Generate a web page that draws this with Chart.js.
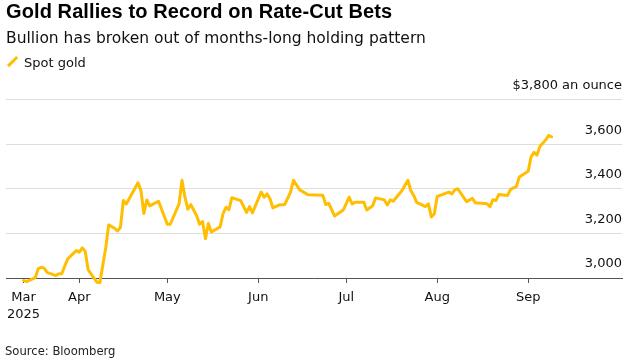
<!DOCTYPE html>
<html><head><meta charset="utf-8">
<script src="https://cdn.jsdelivr.net/npm/chart.js@4.4.1/dist/chart.umd.min.js"></script>
<style>
html,body{margin:0;padding:0;background:#fff;}
#wrap{position:relative;width:633px;height:361px;overflow:hidden;}
#c{position:absolute;left:0;top:0;}
.t{position:absolute;white-space:nowrap;color:#000;}
#title{left:6px;top:1.4px;font:bold 20px/20px "Liberation Sans",Arial,sans-serif;letter-spacing:0.1px;}
#sub{left:6px;top:29px;font:15.5px/18px "DejaVu Sans",sans-serif;color:#111;}
#leg{left:24px;top:54.7px;font:13px/15px "DejaVu Sans",sans-serif;color:#111;}
#sw{position:absolute;left:10.5px;top:55.4px;width:3px;height:13.3px;background:#ffbe00;transform:rotate(45deg);}
#src{left:5px;top:345.3px;font:11.6px/13.5px "DejaVu Sans",sans-serif;color:#222;}
</style></head>
<body><div id="wrap">
<canvas id="c" width="633" height="361"></canvas>
<div class="t" id="title">Gold Rallies to Record on Rate-Cut Bets</div>
<div class="t" id="sub">Bullion has broken out of months-long holding pattern</div>
<div id="sw"></div>
<div class="t" id="leg">Spot gold</div>
<div class="t" id="src">Source: Bloomberg</div>
</div>
<script>
const dates = [
'2025-03-13','2025-03-14','2025-03-17','2025-03-18','2025-03-19','2025-03-20','2025-03-21','2025-03-24','2025-03-25','2025-03-26',
'2025-03-28','2025-03-30','2025-03-31','2025-04-01','2025-04-02','2025-04-03','2025-04-04','2025-04-06','2025-04-07','2025-04-08',
'2025-04-10','2025-04-11','2025-04-13','2025-04-14','2025-04-15','2025-04-16','2025-04-17','2025-04-21','2025-04-22','2025-04-23',
'2025-04-24','2025-04-25','2025-04-28','2025-04-29','2025-05-01','2025-05-02','2025-05-05','2025-05-06','2025-05-07','2025-05-08',
'2025-05-09','2025-05-11','2025-05-12','2025-05-13','2025-05-14','2025-05-15','2025-05-16','2025-05-19','2025-05-20','2025-05-21',
'2025-05-22','2025-05-23','2025-05-26','2025-05-28','2025-05-29','2025-05-30','2025-06-02','2025-06-03','2025-06-04','2025-06-05',
'2025-06-06','2025-06-08','2025-06-10','2025-06-12','2025-06-13','2025-06-15','2025-06-16','2025-06-18','2025-06-23','2025-06-24',
'2025-06-25','2025-06-27','2025-06-30','2025-07-02','2025-07-03','2025-07-04','2025-07-07','2025-07-08','2025-07-10','2025-07-11',
'2025-07-14','2025-07-15','2025-07-16','2025-07-17','2025-07-20','2025-07-22','2025-07-23','2025-07-24','2025-07-25','2025-07-28',
'2025-07-29','2025-07-30','2025-07-31','2025-08-01','2025-08-04','2025-08-05','2025-08-06','2025-08-07','2025-08-08','2025-08-11',
'2025-08-13','2025-08-14','2025-08-18','2025-08-19','2025-08-20','2025-08-21','2025-08-22','2025-08-25','2025-08-26','2025-08-28',
'2025-08-29','2025-09-01','2025-09-02','2025-09-03','2025-09-04','2025-09-05','2025-09-07','2025-09-08','2025-09-09'
];
const spotGold = [
2989,2984,3002,3042,3048,3044,3025,3011,3019,3019,
3085,3110,3123,3116,3135,3120,3037,2999,2981,2980,
3135,3238,3223,3211,3226,3347,3332,3427,3392,3289,
3350,3323,3344,3309,3241,3241,3332,3438,3362,3309,
3329,3279,3241,3253,3176,3244,3206,3229,3289,3317,
3306,3360,3347,3294,3320,3292,3385,3362,3377,3355,
3314,3327,3329,3385,3438,3397,3388,3373,3371,3329,
3335,3278,3305,3362,3332,3339,3339,3305,3324,3359,
3350,3327,3350,3344,3392,3438,3392,3370,3339,3320,
3332,3274,3287,3366,3380,3385,3377,3395,3400,3342,
3357,3337,3333,3320,3351,3347,3374,3370,3397,3410,
3453,3478,3543,3563,3551,3589,3619,3639,3633
];
const xTickDates = ['2025-03-13','2025-04-01','2025-05-01','2025-06-01','2025-07-01','2025-08-01','2025-09-01'];
const xTickLabels = [['Mar','2025'],'Apr','May','Jun','Jul','Aug','Sep'];
const xRange = ['2025-03-07','2025-10-03'];
const yTickValues = [3000,3200,3400,3600,3800];
const yTickLabels = ['3,000','3,200','3,400','3,600','$3,800 an ounce'];
const yRange = [3000,3800];

const DAY = 86400000;
const dayNum = s => Date.UTC(+s.slice(0,4), +s.slice(5,7)-1, +s.slice(8,10)) / DAY;
const GOLD = '#ffbe00';
const FONT = 'DejaVu Sans';

new Chart(document.getElementById('c'), {
  type: 'line',
  data: {
    datasets: [{
      label: 'Spot gold',
      data: dates.map((d,i) => ({x: dayNum(d), y: spotGold[i]})),
      borderColor: GOLD,
      borderWidth: 3,
      pointRadius: 0,
      tension: 0,
      borderJoinStyle: 'round',
      borderCapStyle: 'round',
      clip: false
    }]
  },
  options: {
    responsive: false,
    animation: false,
    devicePixelRatio: 1,
    layout: {padding: {left: 6, right: 11, top: 99.5, bottom: 32.2}},
    plugins: {legend: {display: false}, title: {display: false}, tooltip: {enabled: false}},
    scales: {
      x: {
        type: 'linear',
        min: dayNum(xRange[0]), max: dayNum(xRange[1]),
        afterBuildTicks: s => { s.ticks = xTickDates.map(d => ({value: dayNum(d)})); },
        ticks: {
          autoSkip: false, maxRotation: 0, minRotation: 0, padding: 6, color: '#111',
          font: {family: FONT, size: 13, lineHeight: 1.3},
          callback: v => { const i = xTickDates.findIndex(d => dayNum(d) === v); return i >= 0 ? xTickLabels[i] : ''; }
        },
        grid: {display: true, drawOnChartArea: false, drawTicks: true, tickLength: 5, color: '#555', lineWidth: 1},
        border: {display: true, color: '#555', width: 1}
      },
      y: {
        type: 'linear', position: 'right',
        min: yRange[0], max: yRange[1],
        afterBuildTicks: s => { s.ticks = yTickValues.map(v => ({value: v})); },
        ticks: {
          mirror: true, padding: 0, labelOffset: -14, color: '#111',
          font: {family: FONT, size: 13},
          callback: v => yTickLabels[yTickValues.indexOf(v)]
        },
        grid: {color: '#dedede', lineWidth: 1, drawTicks: false},
        border: {display: false}
      }
    }
  }
});
</script>
</body></html>
